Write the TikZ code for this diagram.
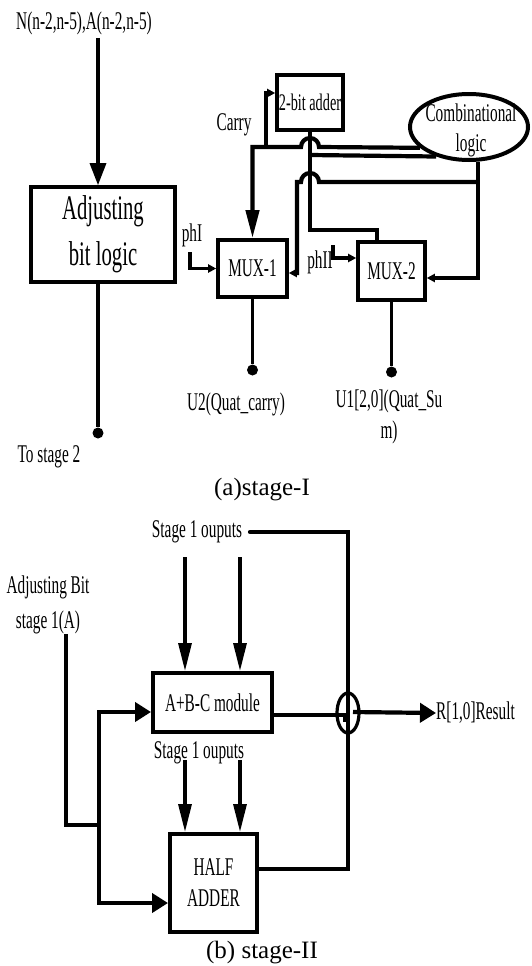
\documentclass[tikz,border=0pt]{standalone}
\usepackage{fontspec}
\setmainfont{Liberation Serif}
\newfontfamily\cnd{Liberation Serif}[FakeStretch=0.6]
\usetikzlibrary{arrows.meta,shapes.geometric}
\newcommand{\lbl}{\cnd\fontsize{25.5}{31}\selectfont}
\newcommand{\lblbig}{\cnd\fontsize{34.5}{46}\selectfont}
\newcommand{\lbls}{\cnd\fontsize{23.8}{25}\selectfont}
\newcommand{\lbladj}{\cnd\fontsize{25.5}{35}\selectfont}
\newcommand{\capf}{\fontsize{25}{30}\selectfont}
\begin{document}
\begin{tikzpicture}[x=1pt,y=-1pt,
  box/.style={draw,line width=3.6pt,inner sep=0pt,align=center,font=\lbl},
  lab/.style={inner sep=0pt,align=center,font=\lbl},
  wire/.style={line width=4.2pt},
  thinw/.style={line width=3.2pt},
  bigarr/.style={-{Triangle[length=22pt,width=16pt]}},
  tallarr/.style={-{Triangle[length=28pt,width=13pt]}},
  smarr/.style={-{Triangle[length=8pt,width=8pt]}},
  midarr/.style={-{Triangle[length=16pt,width=19pt]}},
  dotn/.style={circle,fill,inner sep=0pt,minimum size=11pt}]
\fill[white] (0,0) rectangle (532,966);
\useasboundingbox (0,0) rectangle (532,966);

% ---------------- Stage I ----------------
\node[lab] (ntext) at (84,23) {N(n-2,n-5),A(n-2,n-5)};
\node[box,font=\lblbig,minimum width=144,minimum height=95] (adj) at (103,234.5) {Adjusting\\bit logic};
\node[box,minimum width=69,minimum height=57] (mux1) at (252.5,268.5) {MUX-1};
\node[box,minimum width=67,minimum height=58] (mux2) at (391.5,271) {MUX-2};
\node[box,font=\lbls,minimum width=66,minimum height=55] (adder) at (310,102.5) {2-bit adder};
\node[draw,ellipse,line width=4pt,inner sep=0pt,minimum width=118,minimum height=66] (comb) at (469,127) {};
\node[lab,font=\cnd\fontsize{25.5}{30}\selectfont] (combt) at (471,130) {Combinational\\logic};

\node[dotn] (d1) at (98,433) {};
\node[lab] (ts2) at (49,457) {To stage 2};
\node[dotn] (d2) at (252.5,370) {};
\node[lab] (u2) at (236,404) {U2(Quat\_carry)};
\node[dotn] (d3) at (391.5,372) {};
\node[lab] (u1) at (389,417) {U1[2,0](Quat\_Su\\m)};
\node[lab] (carry) at (234,125) {Carry};
\node[lab] (phi) at (192,235) {phI};
\node[lab] (phii) at (320,262) {phII};
\node[inner sep=0pt,font=\capf] (capa) at (262,490) {(a)stage-I};

\coordinate (n0) at (98,38);
\draw[thinw,bigarr] (n0) -- (n0 |- adj.north);
\draw[thinw] (adj.south -| d1) -- (d1);
\coordinate (p1) at (190,252);
\draw[thinw,smarr] (p1) |- (mux1.west);
\coordinate (p2) at (333,245);
\draw[thinw,smarr] (p2) |- (mux2.west |- 0,258);

% carry wire from combinational logic
\draw[wire,tallarr] (comb.203) -- (319,147) arc[start angle=360,end angle=180,radius=9]
  -- (mux1.north |- 0,147) -- (mux1.north);
\draw[wire,smarr] (266,147) |- (adder.west |- 0,93);

% 2-bit adder output
\coordinate (w2c) at (377,230);
\draw[wire] (adder.south) |- (w2c) -- (w2c |- mux2.north);
\draw[wire] (adder.south |- 0,155) -- (comb.222);

% combinational logic output
\draw[wire,smarr] (comb.285) |- (mux2.east |- 0,278);
\draw[wire,smarr] (comb.285 |- 0,182) -- (319,182) arc[start angle=360,end angle=180,radius=9]
  -- (297,182) |- (mux1.east |- 0,273);

\draw[thinw] (mux1.south) -- (d2);
\draw[thinw] (mux2.south) -- (d3);

% ---------------- Stage II ----------------
\node[lab,font=\lbladj] (adjb) at (48,605) {Adjusting Bit\\stage 1(A)};
\node[lab] (s1a) at (197,532) {Stage 1 ouputs};
\node[lab] (s1b) at (199,753) {Stage 1 ouputs};
\node[box,line width=4pt,minimum width=119,minimum height=59] (abc) at (212.5,702.5) {A+B-C module};
\node[box,line width=4pt,minimum width=87,minimum height=98] (ha) at (213.5,883) {HALF\\ADDER};
\node[draw,ellipse,line width=3.2pt,inner sep=0pt,minimum width=22,minimum height=40] (circ) at (348,713) {};
\node[lab,anchor=west] (res) at (436,713) {R[1,0]Result};
\node[inner sep=0pt,font=\capf] (capb) at (262,953) {(b) stage-II};

\coordinate (a0) at (66,634);
\coordinate (a1) at (66,825);
\coordinate (k1) at (99,712);
\coordinate (k2) at (99,903);
\draw[thinw] (a0) |- (k1 |- a1);
\draw[wire,midarr] (k2) -- (k1) -- (k1 -| abc.west);
\draw[wire,midarr,line cap=rect] (k2) -- (k2 -| ha.west);

\coordinate (t1) at (185,557);
\coordinate (t2) at (240,557);
\coordinate (t3) at (185,760);
\coordinate (t4) at (240,760);
\draw[thinw,tallarr] (t1) -- (t1 |- abc.north);
\draw[thinw,tallarr] (t2) -- (t2 |- abc.north);
\draw[thinw,tallarr] (t3) -- (t3 |- ha.north);
\draw[thinw,tallarr] (t4) -- (t4 |- ha.north);

\coordinate (s0) at (250,532);
\draw[wire,line cap=round] (s0) -| (circ.south);
\draw[wire] (ha.east |- 0,869) -| (circ.south);
\draw[wire] (abc.east |- 0,715) -- (345,715) -- (345,722);
\draw[wire,midarr] (353,712) -- (res.west);
\end{tikzpicture}
\end{document}
